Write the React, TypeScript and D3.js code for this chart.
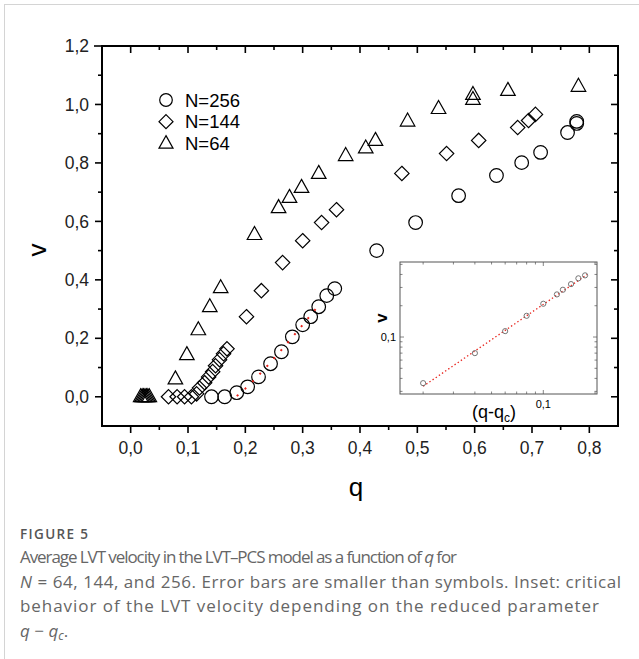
import React, { useEffect, useRef } from "react";
import * as d3 from "d3";

// N=64 (triangles)
const q64 = [0.0175, 0.02, 0.0225, 0.025, 0.0275, 0.03, 0.0325, 0.078, 0.098, 0.118, 0.138, 0.157, 0.216, 0.258, 0.277, 0.298, 0.328, 0.375, 0.41, 0.427, 0.483, 0.537, 0.597, 0.597, 0.658, 0.781];
const v64 = [0, 0, 0, 0, 0, 0, 0, 0.061, 0.144, 0.229, 0.308, 0.373, 0.555, 0.647, 0.682, 0.716, 0.764, 0.825, 0.851, 0.877, 0.943, 0.986, 1.034, 1.017, 1.048, 1.062];

// N=144 (diamonds)
const q144 = [0.066, 0.081, 0.094, 0.106, 0.115, 0.12, 0.129, 0.136, 0.143, 0.148, 0.155, 0.162, 0.168, 0.202, 0.228, 0.265, 0.3, 0.333, 0.359, 0.473, 0.551, 0.607, 0.675, 0.694, 0.706];
const v144 = [0, 0, 0, 0, 0.01, 0.03, 0.048, 0.068, 0.086, 0.106, 0.127, 0.147, 0.164, 0.274, 0.363, 0.459, 0.534, 0.596, 0.64, 0.764, 0.832, 0.877, 0.921, 0.945, 0.966];

// N=256 (circles)
const q256 = [0.141, 0.164, 0.185, 0.204, 0.223, 0.244, 0.263, 0.282, 0.3, 0.314, 0.328, 0.342, 0.356, 0.429, 0.497, 0.572, 0.638, 0.682, 0.715, 0.762, 0.778, 0.778];
const v256 = [0, 0, 0.014, 0.034, 0.068, 0.113, 0.154, 0.205, 0.246, 0.274, 0.308, 0.346, 0.37, 0.5, 0.596, 0.688, 0.757, 0.801, 0.836, 0.904, 0.935, 0.942];

// inset: v against q - qc, log-log
const insetDq = [0.02, 0.04, 0.06, 0.08, 0.1, 0.12, 0.13, 0.145, 0.16, 0.175];
const insetV = [0.036, 0.07, 0.114, 0.16, 0.209, 0.257, 0.285, 0.323, 0.367, 0.392];

// power-law fit  v = A * ((q - qc) / 0.1)^beta
const qc = 0.183;
const fitA = 0.206;
const fitBeta = 1.127;
const fitRangeMain = [0.185, 0.33];
const fitRangeInset = [0.02, 0.18];

const xTicks = [0, 0.1, 0.2, 0.3, 0.4, 0.5, 0.6, 0.7, 0.8];
const yTicks = [0, 0.2, 0.4, 0.6, 0.8, 1.0, 1.2];

const legend = ["N=256", "N=144", "N=64"];

const fmt = (d: number) => d.toFixed(1).replace(".", ",");

const triPath = (s: number) =>
  `M0,${-s * 0.62}L${s * 0.56},${s * 0.38}L${-s * 0.56},${s * 0.38}Z`;
const diaPath = (s: number) => `M0,${-s}L${s},0L0,${s}L${-s},0Z`;

const App = () => {
  const ref = useRef<SVGSVGElement>(null);

  useEffect(() => {
    const svg = d3.select(ref.current);
    svg.selectAll("*").remove();

    // page frame lines
    svg.append("line").attr("x1", 4).attr("x2", 639).attr("y1", 4.5).attr("y2", 4.5).attr("stroke", "#d4d4d4");
    svg.append("line").attr("x1", 4.5).attr("x2", 4.5).attr("y1", 4).attr("y2", 659).attr("stroke", "#d4d4d4");

    const x = d3.scaleLinear().domain([-0.05, 0.85]).range([102, 618]);
    const y = d3.scaleLinear().domain([-0.1, 1.2]).range([426, 46]);

    const g = svg.append("g").style("font-family", "'Liberation Sans', Arial, sans-serif");

    // minor ticks
    const xMinor = d3.range(-0.05, 0.851, 0.05).filter((d) => d > -0.04 && d < 0.84);
    const yMinor = d3.range(-0.1, 1.201, 0.1).filter((d) => d > -0.09 && d < 1.19);
    const isMajorX = (d: number) => Math.abs(Math.round(d * 10) - d * 10) < 1e-6;
    const isMajorY = (d: number) => Math.abs(Math.round(d * 5) - d * 5) < 1e-6;

    const tk = g.append("g").attr("stroke", "#000").attr("stroke-width", 1.6);
    xMinor.forEach((d) => {
      const L = isMajorX(d) ? 7 : 4;
      tk.append("line").attr("x1", x(d)).attr("x2", x(d)).attr("y1", 426).attr("y2", 426 + L);
      tk.append("line").attr("x1", x(d)).attr("x2", x(d)).attr("y1", 46).attr("y2", 46 + L);
    });
    yMinor.forEach((d) => {
      const L = isMajorY(d) ? 7 : 4;
      tk.append("line").attr("x1", 102).attr("x2", 102 - L).attr("y1", y(d)).attr("y2", y(d));
      tk.append("line").attr("x1", 618).attr("x2", 618 - L).attr("y1", y(d)).attr("y2", y(d));
    });
    tk.append("line").attr("x1", 102).attr("x2", 94).attr("y1", 46).attr("y2", 46);

    g.append("rect")
      .attr("x", 102).attr("y", 46).attr("width", 516).attr("height", 380)
      .attr("fill", "none").attr("stroke", "#000").attr("stroke-width", 2);

    g.append("g").selectAll("text").data(xTicks).join("text")
      .attr("x", (d) => x(d)).attr("y", 454).attr("text-anchor", "middle")
      .attr("font-size", 17.5).attr("fill", "#222").text(fmt);
    g.append("g").selectAll("text").data(yTicks).join("text")
      .attr("x", 89).attr("y", (d) => y(d)).attr("dy", "0.35em").attr("text-anchor", "end")
      .attr("font-size", 17.5).attr("fill", "#222").text(fmt);

    g.append("text").attr("x", 356).attr("y", 496).attr("text-anchor", "middle")
      .attr("font-size", 26).text("q");
    g.append("text").attr("transform", "translate(46,250) rotate(-90)").attr("text-anchor", "middle")
      .attr("font-size", 26).text("v");

    // data
    const mk = g.append("g").attr("fill", "none").attr("stroke", "#000").attr("stroke-width", 1.2);
    mk.selectAll("path.tri").data(d3.range(q64.length)).join("path").attr("class", "tri")
      .attr("transform", (i) => `translate(${x(q64[i])},${y(v64[i])})`).attr("d", triPath(13));
    mk.selectAll("path.dia").data(d3.range(q144.length)).join("path").attr("class", "dia")
      .attr("transform", (i) => `translate(${x(q144[i])},${y(v144[i])})`).attr("d", diaPath(7.2));
    mk.selectAll("circle").data(d3.range(q256.length)).join("circle")
      .attr("cx", (i) => x(q256[i])).attr("cy", (i) => y(v256[i])).attr("r", 6.8);

    const fit = (q: number) => fitA * Math.pow((q - qc) / 0.1, fitBeta);
    const fq = d3.range(0, 61).map((i) => fitRangeMain[0] + (i / 60) * (fitRangeMain[1] - fitRangeMain[0]));
    g.append("path")
      .attr("d", d3.line<number>().x((q) => x(q)).y((q) => y(fit(q)))(fq))
      .attr("fill", "none").attr("stroke", "#e8231c").attr("stroke-width", 2)
      .attr("stroke-dasharray", "2 8.5");

    // legend
    const lg = g.append("g");
    legend.forEach((t, i) => {
      const cy = 100 + i * 21.7;
      const s = lg.append("g").attr("transform", `translate(166,${cy})`)
        .attr("fill", "none").attr("stroke", "#000").attr("stroke-width", 1.2);
      if (i === 0) s.append("circle").attr("r", 6.3);
      if (i === 1) s.append("path").attr("d", diaPath(7));
      if (i === 2) s.append("path").attr("d", triPath(12.5));
      lg.append("text").attr("x", 185).attr("y", cy).attr("dy", "0.36em")
        .attr("font-size", 18.5).text(t);
    });

    // inset
    const ix = d3.scaleLog().domain([0.01467, 0.2053]).range([400, 597]);
    const iy = d3.scaleLog().domain([0.0283, 0.527]).range([394, 262]);
    const ins = g.append("g");
    const itk = ins.append("g").attr("stroke", "#666").attr("stroke-width", 0.8);
    [0.02, 0.03, 0.04, 0.05, 0.06, 0.07, 0.08, 0.09, 0.1, 0.2].forEach((d) => {
      const L = d === 0.1 ? 4 : 2.5;
      itk.append("line").attr("x1", ix(d)).attr("x2", ix(d)).attr("y1", 394).attr("y2", 394 - L);
      itk.append("line").attr("x1", ix(d)).attr("x2", ix(d)).attr("y1", 262).attr("y2", 262 + L);
    });
    [0.03, 0.04, 0.05, 0.06, 0.07, 0.08, 0.09, 0.1, 0.2, 0.3, 0.4, 0.5].forEach((d) => {
      const L = d === 0.1 ? 4 : 2.5;
      itk.append("line").attr("x1", 400).attr("x2", 400 + L).attr("y1", iy(d)).attr("y2", iy(d));
      itk.append("line").attr("x1", 597).attr("x2", 597 - L).attr("y1", iy(d)).attr("y2", iy(d));
    });
    ins.append("rect").attr("x", 400).attr("y", 262).attr("width", 197).attr("height", 132)
      .attr("fill", "none").attr("stroke", "#555").attr("stroke-width", 1);

    const ifq = d3.range(0, 41).map((i) => fitRangeInset[0] * Math.pow(fitRangeInset[1] / fitRangeInset[0], i / 40));
    ins.append("path")
      .attr("d", d3.line<number>().x((d) => ix(d)).y((d) => iy(fitA * Math.pow(d / 0.1, fitBeta)))(ifq))
      .attr("fill", "none").attr("stroke", "#e8231c").attr("stroke-width", 1.3)
      .attr("stroke-dasharray", "1.4 2.4");
    ins.selectAll("circle").data(d3.range(insetDq.length)).join("circle")
      .attr("cx", (i) => ix(insetDq[i])).attr("cy", (i) => iy(insetV[i])).attr("r", 2.6)
      .attr("fill", "none").attr("stroke", "#666").attr("stroke-width", 0.9);

    ins.append("text").attr("x", ix(0.1)).attr("y", 408).attr("text-anchor", "middle")
      .attr("font-size", 11).text("0,1");
    ins.append("text").attr("x", 396).attr("y", iy(0.1)).attr("dy", "0.35em").attr("text-anchor", "end")
      .attr("font-size", 11).text("0,1");
    ins.append("text").attr("transform", "translate(387,318) rotate(-90)").attr("text-anchor", "middle")
      .attr("font-size", 17).attr("font-weight", "bold").text("v");
    const xl = ins.append("text").attr("x", 494).attr("y", 418).attr("text-anchor", "middle").attr("font-size", 18);
    xl.append("tspan").text("(q-q");
    xl.append("tspan").attr("font-size", 12).attr("dy", 4).text("c");
    xl.append("tspan").attr("dy", -4).text(")");

    // caption
    const cap = svg.append("g").style("font-family", "'Open Sans', 'Noto Sans', sans-serif").attr("fill", "#666");
    cap.append("text").attr("x", 20).attr("y", 539).attr("font-size", 13.5).attr("font-weight", 600)
      .attr("textLength", 68).attr("fill", "#555").text("FIGURE 5");
    const lines: [string, boolean][][] = [
      [["Average LVT velocity in the LVT\u2013PCS model as a function of ", false], ["q", true], [" for", false]],
      [["N", true], [" = 64, 144, and 256. Error bars are smaller than symbols. Inset: critical", false]],
      [["behavior of the LVT velocity depending on the reduced parameter", false]],
    ];
    const widths = [437, 601, 579];
    lines.forEach((parts, i) => {
      const t = cap.append("text").attr("x", 20).attr("y", 563 + i * 24.6).attr("font-size", 17)
        .attr("textLength", widths[i]);
      parts.forEach(([s, it]) => t.append("tspan").attr("font-style", it ? "italic" : "normal").text(s));
    });
    const l4 = cap.append("text").attr("x", 20).attr("y", 563 + 3 * 24.6).attr("font-size", 17);
    l4.append("tspan").attr("font-style", "italic").text("q");
    l4.append("tspan").text(" \u2212 ");
    l4.append("tspan").attr("font-style", "italic").text("q");
    l4.append("tspan").attr("font-style", "italic").attr("font-size", 12).attr("dy", 3).text("c");
    l4.append("tspan").attr("dy", -3).text(".");
  }, []);

  return (
    <svg
      ref={ref}
      width={639}
      height={659}
      style={{ position: "absolute", left: 0, top: 0, background: "#fff" }}
    />
  );
};

export default App;
